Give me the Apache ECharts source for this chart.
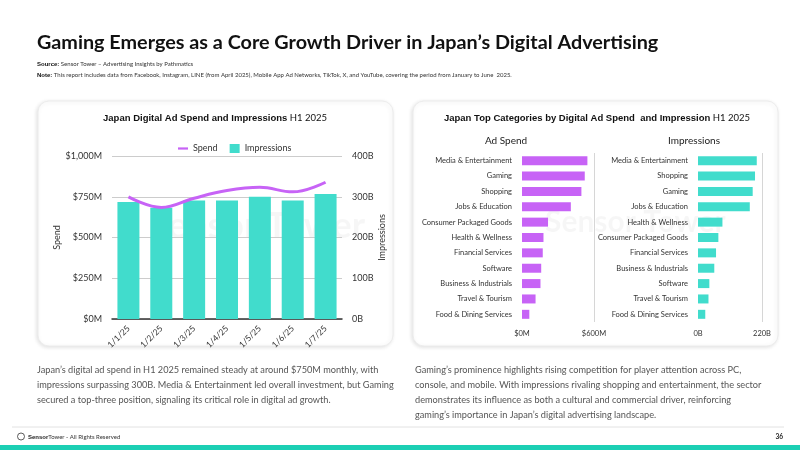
<!DOCTYPE html>
<html>
<head>
<meta charset="utf-8">
<script src="https://cdn.jsdelivr.net/npm/echarts@6/dist/echarts.min.js"></script>
<style>
  html, body { margin: 0; padding: 0; background: #fff; }
  #page { width: 800px; height: 450px; }
</style>
</head>
<body>
<div id="page"></div>
<script>
// monthly data (left chart)
const months = ['1/1/25', '1/2/25', '1/3/25', '1/4/25', '1/5/25', '1/6/25', '1/7/25'];
const spendMonthly = [749, 684, 741, 788, 808, 780, 839];        // $M
const impressionsMonthly = [287, 273, 291, 291, 300, 291, 307];  // B

// top categories (right chart)
const spendCategories = ['Media & Entertainment', 'Gaming', 'Shopping', 'Jobs & Education', 'Consumer Packaged Goods',
  'Health & Wellness', 'Financial Services', 'Software', 'Business & Industrials', 'Travel & Tourism', 'Food & Dining Services'];
const spendValues = [545, 523, 495, 407, 217, 179, 173, 160, 154, 113, 61];
const impCategories = ['Media & Entertainment', 'Shopping', 'Gaming', 'Jobs & Education', 'Health & Wellness',
  'Consumer Packaged Goods', 'Financial Services', 'Business & Industrials', 'Software', 'Travel & Tourism', 'Food & Dining Services'];
const impValues = [202, 196, 188, 178, 84, 70, 62, 56, 39, 36, 25];

const PURPLE = '#c763f6';
const TEAL = '#41dccc';
const FONT = 'Lato, "Noto Sans", sans-serif';

const chart = echarts.init(document.getElementById('page'));

// 卡片背景
const card = (x, y, w, h) => ({
  type: 'rect', z: -10, silent: true,
  shape: { x: x, y: y, width: w, height: h, r: 11 },
  style: { fill: '#fff', stroke: '#ececec', lineWidth: 1, shadowBlur: 4, shadowOffsetX: -1, shadowOffsetY: 1, shadowColor: 'rgba(0,0,0,0.12)' }
});

const txt = (x, y, text, style) => ({
  type: 'text', x: x, y: y, silent: true,
  style: Object.assign({ text: text, fontFamily: FONT, fill: '#222', verticalAlign: 'middle' }, style)
});

const axisLabelStyle = { color: '#333', fontSize: 9, fontFamily: FONT };

const option = {
  animation: false,
  textStyle: { fontFamily: FONT },
  legend: {
    top: 139, left: 173,
    itemWidth: 10, itemHeight: 9, itemGap: 12,
    textStyle: { fontSize: 9, color: '#333', fontFamily: FONT },
    data: [
      { name: 'Spend', icon: 'path://M0,0 H10 V2.2 H0 Z' },
      { name: 'Impressions', icon: 'rect' }
    ]
  },
  grid: [
    { left: 112, top: 156, width: 230, height: 163 },
    { left: 522, top: 153, width: 72, height: 169 },
    { left: 698, top: 153, width: 64, height: 169 }
  ],
  xAxis: [
    {
      gridIndex: 0, type: 'category', data: months,
      axisTick: { show: false },
      axisLine: { lineStyle: { color: '#333', width: 1.5 } },
      axisLabel: Object.assign({ rotate: 45, margin: 8 }, axisLabelStyle, { fontSize: 8.5 })
    },
    {
      gridIndex: 1, type: 'value', min: 0, max: 600, interval: 600,
      axisLine: { show: false }, axisTick: { show: false },
      splitLine: { show: true, showMinLine: false, lineStyle: { color: '#d6d6d6' } },
      axisLabel: Object.assign({ formatter: v => '$' + v + 'M', margin: 8 }, axisLabelStyle, { fontSize: 7.5 })
    },
    {
      gridIndex: 2, type: 'value', min: 0, max: 220, interval: 220,
      axisLine: { show: false }, axisTick: { show: false },
      splitLine: { show: true, showMinLine: false, lineStyle: { color: '#d6d6d6' } },
      axisLabel: Object.assign({ formatter: v => v + 'B', margin: 8 }, axisLabelStyle, { fontSize: 7.5 })
    }
  ],
  yAxis: [
    {
      gridIndex: 0, type: 'value', min: 0, max: 1000, interval: 250,
      name: 'Spend', nameLocation: 'middle', nameGap: 48, nameRotate: 90,
      nameTextStyle: { fontSize: 9, color: '#333' },
      axisLine: { show: false }, axisTick: { show: false },
      splitLine: { lineStyle: { color: '#cccccc' } },
      axisLabel: Object.assign({ formatter: v => '$' + v.toLocaleString('en-US') + 'M', margin: 10 }, axisLabelStyle)
    },
    {
      gridIndex: 0, type: 'value', min: 0, max: 400, interval: 100, position: 'right',
      name: 'Impressions', nameLocation: 'middle', nameGap: 32, nameRotate: 90,
      nameTextStyle: { fontSize: 9, color: '#333' },
      axisLine: { show: false }, axisTick: { show: false },
      splitLine: { show: false },
      axisLabel: Object.assign({ formatter: '{value}B', margin: 10 }, axisLabelStyle)
    },
    {
      gridIndex: 1, type: 'category', data: spendCategories, inverse: true,
      axisLine: { show: false }, axisTick: { show: false },
      axisLabel: Object.assign({ margin: 10 }, axisLabelStyle, { fontSize: 7.5 })
    },
    {
      gridIndex: 2, type: 'category', data: impCategories, inverse: true,
      axisLine: { show: false }, axisTick: { show: false },
      axisLabel: Object.assign({ margin: 10 }, axisLabelStyle, { fontSize: 7.5 })
    }
  ],
  series: [
    {
      name: 'Impressions', type: 'bar', xAxisIndex: 0, yAxisIndex: 1,
      data: impressionsMonthly, barWidth: 22, itemStyle: { color: TEAL }
    },
    {
      name: 'Spend', type: 'line', xAxisIndex: 0, yAxisIndex: 0,
      data: spendMonthly, smooth: 0.4, symbol: 'none',
      lineStyle: { color: PURPLE, width: 3 }, itemStyle: { color: PURPLE }, z: 5
    },
    {
      name: 'Ad Spend', type: 'bar', xAxisIndex: 1, yAxisIndex: 2,
      data: spendValues, barWidth: 9, itemStyle: { color: PURPLE }
    },
    {
      name: 'Category Impressions', type: 'bar', xAxisIndex: 2, yAxisIndex: 3,
      data: impValues, barWidth: 9, itemStyle: { color: TEAL }
    }
  ],
  graphic: [
    card(38, 101, 355, 245),
    card(413, 101, 365, 245),
    // watermarks
    txt(168, 226, 'ensor Tower', { fontSize: 36, fontWeight: 'bold', fill: 'rgba(0,0,0,0.035)' }),
    txt(545, 222, 'Sensor Tower', { fontSize: 30, fontWeight: 'bold', fill: 'rgba(0,0,0,0.035)' }),
    // heading
    txt(37, 43, 'Gaming Emerges as a Core Growth Driver in Japan’s Digital Advertising', { fontSize: 19.8, fontWeight: 'bold', fill: '#111' }),
    txt(37, 64, '{b|Source:} Sensor Tower – Advertising Insights by Pathmatics', {
      fontSize: 6, fill: '#333', rich: { b: { fontWeight: 'bold', fontSize: 6, fill: '#111' } }
    }),
    txt(37, 75, '{b|Note:} This report includes data from Facebook, Instagram, LINE (from April 2025), Mobile App Ad Networks, TikTok, X, and YouTube, covering the period from January to June  2025.', {
      fontSize: 6, fill: '#333', rich: { b: { fontWeight: 'bold', fontSize: 6, fill: '#111' } }
    }),
    // card titles
    txt(215, 118, '{b|Japan Digital Ad Spend and Impressions} H1 2025', {
      fontSize: 9.5, align: 'center', fill: '#111', rich: { b: { fontWeight: 'bold', fontSize: 9.5, fill: '#111' } }
    }),
    txt(597, 118, '{b|Japan Top Categories by Digital Ad Spend  and Impression} H1 2025', {
      fontSize: 9.5, align: 'center', fill: '#111', rich: { b: { fontWeight: 'bold', fontSize: 9.5, fill: '#111' } }
    }),
    txt(506, 141, 'Ad Spend', { fontSize: 10, align: 'center', fill: '#222' }),
    txt(694, 141, 'Impressions', { fontSize: 10, align: 'center', fill: '#222' }),
    // commentary
    txt(37, 385, 'Japan’s digital ad spend in H1 2025 remained steady at around $750M monthly, with\nimpressions surpassing 300B. Media & Entertainment led overall investment, but Gaming\nsecured a top-three position, signaling its critical role in digital ad growth.', {
      fontSize: 9.2, fill: '#555', lineHeight: 15
    }),
    txt(415, 392.5, 'Gaming’s prominence highlights rising competition for player attention across PC,\nconsole, and mobile. With impressions rivaling shopping and entertainment, the sector\ndemonstrates its influence as both a cultural and commercial driver, reinforcing\ngaming’s importance in Japan’s digital advertising landscape.', {
      fontSize: 9.2, fill: '#555', lineHeight: 15
    }),
    // footer
    { type: 'line', silent: true, shape: { x1: 12, y1: 427, x2: 784, y2: 427 }, style: { stroke: '#e2e2e2', lineWidth: 1 } },
    { type: 'circle', silent: true, shape: { cx: 21, cy: 436.5, r: 3.5 }, style: { fill: 'none', stroke: '#333', lineWidth: 0.8 } },
    txt(28, 437, '{b|Sensor}Tower - All Rights Reserved', { fontSize: 6, fill: '#333', rich: { b: { fontWeight: 'bold', fontSize: 6, fill: '#222' } } }),
    txt(783, 437, '36', { fontSize: 6.5, fontWeight: 'bold', align: 'right', fill: '#222' }),
    { type: 'rect', silent: true, shape: { x: 0, y: 445, width: 800, height: 5 }, style: { fill: '#1ccfb4' } }
  ]
};

chart.setOption(option);
</script>
</body>
</html>
